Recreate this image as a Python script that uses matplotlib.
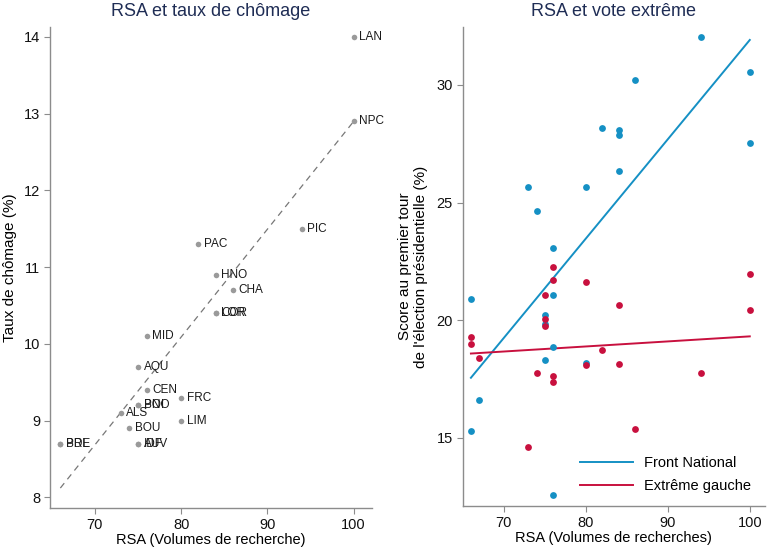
import matplotlib.pyplot as plt

plt.rcParams['font.family'] = ['Liberation Sans', 'DejaVu Sans']

# left panel: RSA searches vs unemployment rate, by region
regions = ['LAN', 'NPC', 'PIC', 'PAC', 'HNO', 'CHA', 'LOR', 'COR', 'MID', 'AQU', 'CEN',
           'FRC', 'POI', 'BNO', 'ALS', 'LIM', 'BOU', 'AUV', 'IDF', 'BRE', 'PDL']
rsa = [100, 100, 94, 82, 84, 86, 84, 84, 76, 75, 76,
       80, 75, 75, 73, 80, 74, 75, 75, 66, 66]
chomage = [14.0, 12.9, 11.5, 11.3, 10.9, 10.7, 10.4, 10.4, 10.1, 9.7, 9.4,
           9.3, 9.2, 9.2, 9.1, 9.0, 8.9, 8.7, 8.7, 8.7, 8.7]

# right panel: RSA searches vs first-round vote share
rsa_fn = [66, 76, 76, 75, 75, 76, 75, 67, 66, 80, 94,
          100, 86, 82, 84, 84, 100, 84, 73, 80, 74, 76]
fn = [20.9, 23.05, 21.07, 20.22, 19.85, 18.85, 18.29, 16.6, 15.3, 18.18, 32.03,
      30.54, 30.21, 28.16, 28.07, 27.85, 27.52, 26.32, 25.68, 25.68, 24.64, 12.55]
rsa_eg = [76, 76, 75, 66, 66, 67, 74, 76, 76, 80, 80,
          82, 73, 100, 100, 84, 84, 94, 86, 75, 75]
eg = [22.26, 21.72, 21.08, 19.27, 19.0, 18.37, 17.76, 17.64, 17.37, 21.62, 18.08,
      18.72, 14.59, 21.97, 20.45, 20.63, 18.12, 17.76, 15.36, 20.05, 19.75]

# fitted values (at RSA = 66 and 100)
fit_x = [66, 100]
fit_chomage = [8.12, 12.9]
fit_fn = [17.55, 31.91]
fit_eg = [18.58, 19.31]

blue = '#1590c4'
red = '#c8103e'
title_col = '#1f2d55'

fig = plt.figure(figsize=(7.68, 5.47), dpi=100)
ax1 = fig.add_axes([0.0651, 0.0713, 0.419, 0.8793])
ax2 = fig.add_axes([0.6025, 0.0750, 0.393, 0.8756])


def style(ax):
    for s in ['top', 'right']:
        ax.spines[s].set_visible(False)
    for s in ['left', 'bottom']:
        ax.spines[s].set_color('#8c8c8c')
        ax.spines[s].set_linewidth(1.0)
    ax.tick_params(direction='out', length=4, color='#8c8c8c', labelsize=10.5,
                   labelcolor='#111111', pad=3)


# --- left
style(ax1)
ax1.scatter(rsa, chomage, s=16, color='#9a9a9a', zorder=3, linewidths=0)
for name, x, y in zip(regions, rsa, chomage):
    ax1.annotate(name, (x, y), xytext=(4, 0), textcoords='offset points',
                 va='center', ha='left', fontsize=8.5, color='#1a1a1a')
ax1.plot(fit_x, fit_chomage, ls=(0, (5, 4)), color='#777777', lw=0.9)
ax1.set_xlim(64.8, 102.1)
ax1.set_ylim(7.86, 14.13)
ax1.set_xticks([70, 80, 90, 100])
ax1.set_yticks([8, 9, 10, 11, 12, 13, 14])
ax1.set_xlabel('RSA (Volumes de recherche)', fontsize=10.5, labelpad=1)
ax1.set_ylabel('Taux de chômage (%)', fontsize=11, labelpad=5)
ax1.set_title('RSA et taux de chômage', fontsize=13, color=title_col, pad=8)

# --- right
style(ax2)
ax2.scatter(rsa_fn, fn, s=24, color=blue, zorder=3, linewidths=0)
ax2.scatter(rsa_eg, eg, s=24, color=red, zorder=3, linewidths=0)
ax2.plot(fit_x, fit_fn, color=blue, lw=1.4, label='Front National')
ax2.plot(fit_x, fit_eg, color=red, lw=1.4, label='Extrême gauche')
ax2.set_xlim(65, 101.8)
ax2.set_ylim(12.1, 32.46)
ax2.set_xticks([70, 80, 90, 100])
ax2.set_yticks([15, 20, 25, 30])
ax2.set_xlabel('RSA (Volumes de recherches)', fontsize=10.5, labelpad=1)
ax2.set_ylabel("Score au premier tour\nde l'élection présidentielle (%)", fontsize=11,
               labelpad=6)
ax2.set_title('RSA et vote extrême', fontsize=13, color=title_col, pad=8)
ax2.legend(loc='lower right', frameon=False, fontsize=10.5, handlelength=3.6,
           borderaxespad=0.5, labelspacing=0.6)

fig.savefig('out.png', dpi=100)
